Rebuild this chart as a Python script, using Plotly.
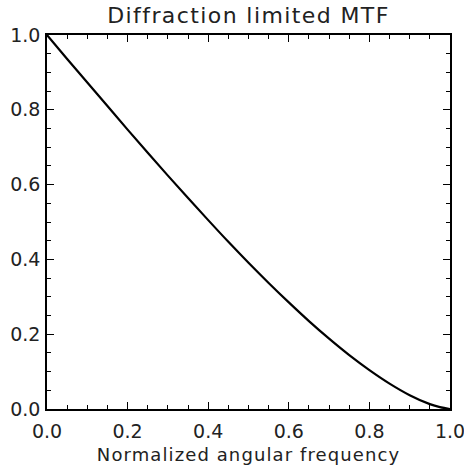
import plotly.graph_objects as go

freq = [0.0, 0.05, 0.1, 0.15, 0.2, 0.25, 0.3, 0.35, 0.4, 0.45, 0.5,
        0.55, 0.6, 0.65, 0.7, 0.75, 0.8, 0.85, 0.9, 0.95, 0.975, 1.0]
mtf = [1.0, 0.936, 0.873, 0.810, 0.747, 0.685, 0.624, 0.564, 0.505, 0.447, 0.391,
       0.337, 0.285, 0.235, 0.188, 0.144, 0.104, 0.068, 0.037, 0.013, 0.005, 0.0]
tick_vals = [0.0, 0.2, 0.4, 0.6, 0.8, 1.0]
tick_text = ["0.0", "0.2", "0.4", "0.6", "0.8", "1.0"]
title_text = "Diffraction limited MTF"
xlabel_text = "Normalized angular frequency"

fig = go.Figure(go.Scatter(x=freq, y=mtf, mode="lines", line=dict(color="black", width=2.2, shape="spline")))

axis_common = dict(
    range=[0, 1], showgrid=False, zeroline=False, showline=True, linecolor="black", linewidth=1.5,
    mirror="ticks", ticks="inside", ticklen=7, tickwidth=1, tickcolor="black",
    tickvals=tick_vals, ticktext=tick_text, automargin=False, ticklabeloverflow="allow",
    minor=dict(ticks="inside", ticklen=4, dtick=0.05, tickcolor="black", tickwidth=1),
    tickfont=dict(family="DejaVu Sans", size=19, color="#222"),
)
fig.update_xaxes(**axis_common, ticklabelstandoff=4,
                 title=dict(text='<span style="letter-spacing:1.1px">' + xlabel_text + '</span>',
                            font=dict(family="DejaVu Sans", size=18, color="#222"), standoff=8))
fig.update_yaxes(**axis_common, ticklabelstandoff=1)

fig.update_layout(
    width=464, height=473,
    margin=dict(l=47, r=14, t=35, b=64, autoexpand=False),
    plot_bgcolor="white", paper_bgcolor="white",
    title=dict(text='<span style="letter-spacing:1.4px">' + title_text + '</span>',
               xref="paper", x=0.5, xanchor="center",
               y=1 - 15 / 473, yanchor="middle",
               font=dict(family="DejaVu Sans", size=22, color="#222")),
    showlegend=False,
)
fig.write_html("out.html", config={"displayModeBar": False},
               post_script="document.body.style.margin='0';document.body.style.overflow='hidden';")
